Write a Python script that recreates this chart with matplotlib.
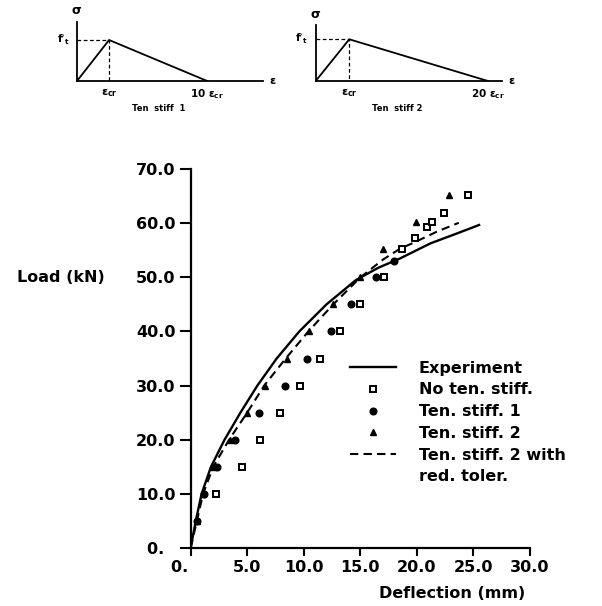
"""Load-deflection curves with tension stiffening insets."""
import matplotlib
matplotlib.use("Agg")
import matplotlib.pyplot as plt
from matplotlib.lines import Line2D
from matplotlib.ticker import FuncFormatter

# Experiment (solid line)
exp_defl = [0, 0.45, 0.97, 1.8, 3.0, 4.4, 5.9, 7.6, 9.6, 12.0, 14.6, 16.6, 18.5, 21.2, 23.5, 25.5]
exp_load = [0, 5, 10, 15, 20, 25, 30, 35, 40, 45, 49.5, 51.8, 53.5, 56.3, 58.1, 59.7]

# Ten. stiff. 2 with red. toler. (dashed line)
red_defl = [0, 0.55, 1.1, 2.0, 3.4, 5.0, 6.5, 8.4, 10.4, 12.6, 15.0, 17.0, 18.5, 19.8, 21.8, 23.7]
red_load = [0, 5, 10, 15, 20, 25, 30, 35, 40, 45, 50, 53.3, 55.3, 56.5, 58.5, 60.1]

# No ten. stiff. (open squares)
no_defl = [2.2, 4.5, 6.1, 7.9, 9.7, 11.4, 13.2, 15.0, 17.1, 18.7, 19.8, 20.9, 21.3, 22.4, 24.5]
no_load = [10, 15, 20, 25, 30, 35, 40, 45, 50, 55.3, 57.2, 59.3, 60.2, 61.9, 65.2]

# Ten. stiff. 1 (filled circles)
ts1_defl = [0.6, 1.2, 2.3, 3.9, 6.0, 8.3, 10.3, 12.4, 14.2, 16.4, 18.0]
ts1_load = [5, 10, 15, 20, 25, 30, 35, 40, 45, 50, 53.1]

# Ten. stiff. 2 (filled triangles)
ts2_defl = [0.6, 1.1, 2.0, 3.5, 5.0, 6.6, 8.5, 10.5, 12.6, 15.0, 17.0, 19.9, 22.8]
ts2_load = [5, 10, 15, 20, 25, 30, 35, 40, 45, 50, 55.3, 60.2, 65.2]

x_ticks = [0, 5, 10, 15, 20, 25, 30]
y_ticks = [0, 10, 20, 30, 40, 50, 60, 70]

# schematic tension-stiffening diagrams (strain in units of eps_cr)
inset1_eps = [0, 1, 4.06]
inset2_eps = [0, 1, 5.13]
inset_sig = [0, 1, 0]

plt.rcParams["font.family"] = "DejaVu Sans"
plt.rcParams["font.weight"] = "bold"
plt.rcParams["mathtext.default"] = "bf"

fig = plt.figure(figsize=(6.02, 6.06), dpi=100)

# ---- main plot
ax = fig.add_axes([190.7 / 602, 1 - 547.7 / 606, 339.3 / 602, 378.4 / 606])
ax.plot(exp_defl, exp_load, color="black", lw=1.7)
ax.plot(red_defl, red_load, color="black", lw=1.5, ls=(0, (4, 2.5)))
ax.plot(no_defl, no_load, ls="none", marker="s", ms=4.5, mfc="white", mec="black", mew=1.4)
ax.plot(ts1_defl, ts1_load, ls="none", marker="o", ms=4.8, color="black")
ax.plot(ts2_defl, ts2_load, ls="none", marker="^", ms=4.8, color="black")

ax.set_xlim(0, 30)
ax.set_ylim(0, 70)
ax.set_xticks(x_ticks)
ax.set_yticks(y_ticks)
ax.xaxis.set_major_formatter(FuncFormatter(lambda v, p: "0.    " if v == 0 else f"{v:.1f}"))
ax.yaxis.set_major_formatter(FuncFormatter(lambda v, p: "0.  " if v == 0 else f"{v:.1f}"))
ax.tick_params(axis="both", labelsize=11.5, width=1.5, colors="black")
ax.tick_params(axis="y", direction="out", length=8, pad=3)
ax.tick_params(axis="x", direction="out", length=6, pad=3)
for s in ["top", "right"]:
    ax.spines[s].set_visible(False)
for s in ["left", "bottom"]:
    ax.spines[s].set_linewidth(1.6)

ax.set_xlabel("Deflection (mm)", fontsize=11.5, fontweight="bold")
ax.xaxis.set_label_coords(0.77, -0.10)
ax.set_ylabel("Load (kN)", fontsize=11.5, fontweight="bold", rotation=0, ha="center", va="center")
ax.yaxis.set_label_coords(-0.382, 0.715)

handles = [
    Line2D([], [], color="black", lw=1.7),
    Line2D([], [], ls="none", marker="s", ms=4.5, mfc="white", mec="black", mew=1.4),
    Line2D([], [], ls="none", marker="o", ms=4.8, color="black"),
    Line2D([], [], ls="none", marker="^", ms=4.8, color="black"),
    Line2D([], [], color="black", lw=1.5, ls=(0, (4, 2.5))),
    Line2D([], [], color="none"),
]
labels = ["Experiment", "No ten. stiff.", "Ten. stiff. 1", "Ten. stiff. 2",
          "Ten. stiff. 2 with", "red. toler."]
ax.legend(handles, labels, loc="upper left", bbox_to_anchor=(0.4695, 0.494),
          frameon=False, fontsize=11.5, handlelength=2.9, handletextpad=1.4,
          labelspacing=0.42, borderpad=0, borderaxespad=0)


# ---- inset schematics
def draw_inset(rect, eps, peak_frac, xmax, end_label, title):
    a = fig.add_axes(rect)
    ymax = 1 / peak_frac
    a.plot(eps, inset_sig, color="black", lw=1.3)
    a.plot([0, eps[1], eps[1]], [inset_sig[1], inset_sig[1], 0], color="black", lw=0.9, ls=(0, (3, 2)))
    a.set_xlim(0, xmax)
    a.set_ylim(0, ymax)
    a.set_xticks([])
    a.set_yticks([])
    for s in ["top", "right"]:
        a.spines[s].set_visible(False)
    for s in ["left", "bottom"]:
        a.spines[s].set_linewidth(1.3)
    a.text(0, ymax * 1.08, r"$\sigma$", ha="center", va="bottom", fontsize=9)
    a.text(-0.25, 1.0, r"$f'_t$", ha="right", va="center", fontsize=7.5)
    a.text(xmax + 0.3, 0, r"$\varepsilon$", ha="center", va="center", fontsize=8)
    a.text(eps[1], -0.14, r"$\varepsilon_{cr}$", ha="center", va="top", fontsize=8)
    a.text(eps[2], -0.14, end_label + r" $\varepsilon_{cr}$", ha="center", va="top", fontsize=7.5)
    a.text(xmax * 0.44, -0.55, title, ha="center", va="top", fontsize=6)
    return a


draw_inset([77 / 602, 1 - 81 / 606, 186 / 602, 59 / 606], inset1_eps, 0.695, 5.8, "10", "Ten  stiff  1")
draw_inset([315.7 / 602, 1 - 81 / 606, 186 / 602, 56 / 606], inset2_eps, 0.745, 5.54, "20", "Ten  stiff 2")

fig.savefig("out.png", dpi=100)
